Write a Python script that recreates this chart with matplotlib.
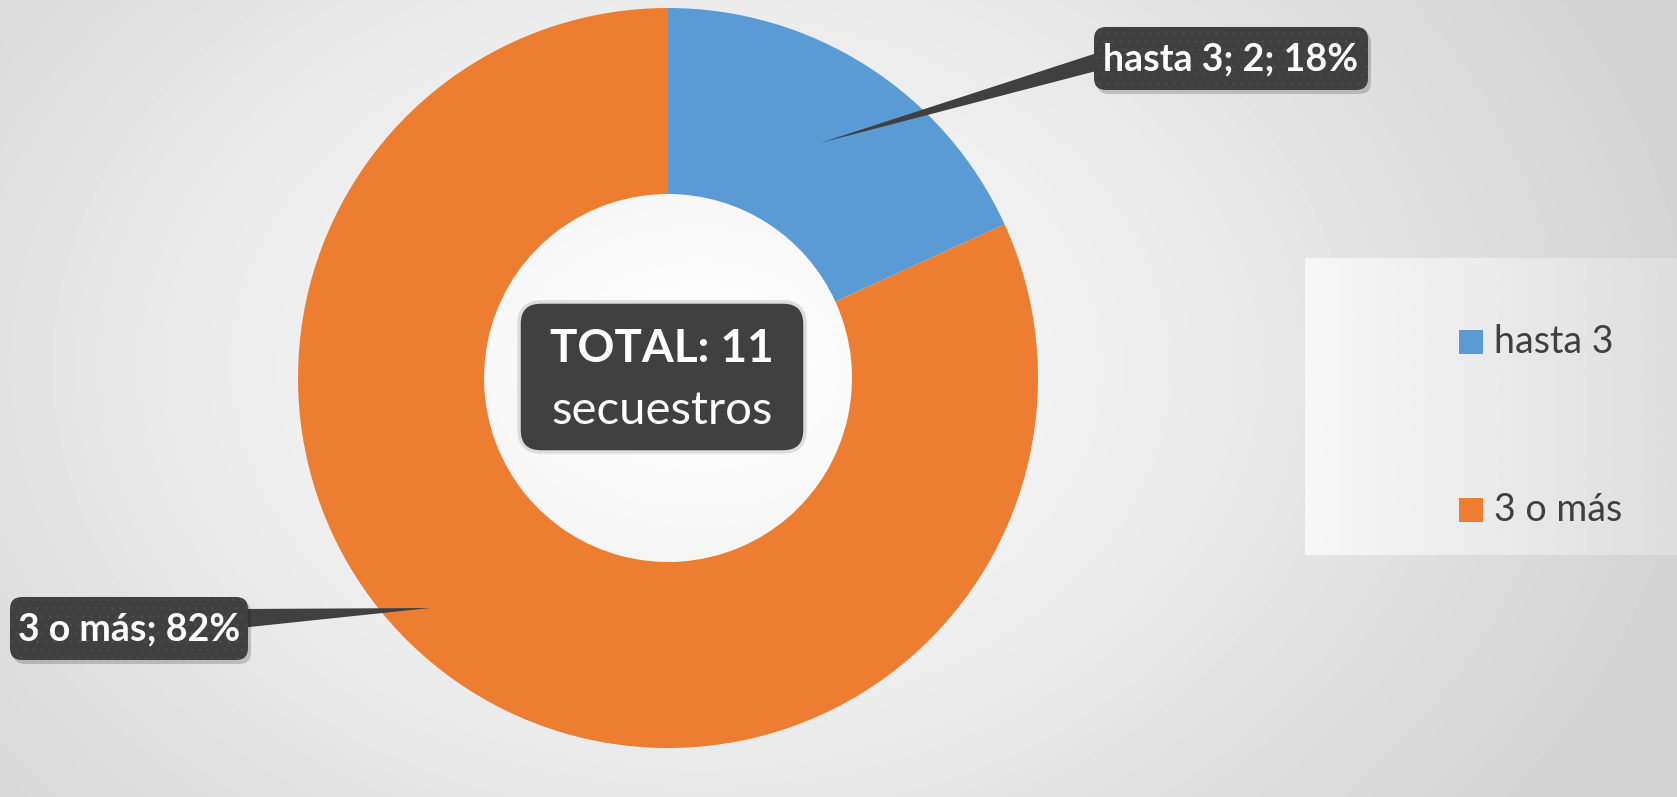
import numpy as np
import matplotlib
matplotlib.use("Agg")
import matplotlib.pyplot as plt
from matplotlib.patches import FancyBboxPatch, Polygon

plt.rcParams["font.family"] = ["Lato", "DejaVu Sans"]
plt.rcParams["hatch.linewidth"] = 0.8

# datos
categorias = ["hasta 3", "3 o más"]
valores = [2, 9]
colores = ["#5B9BD5", "#ED7D31"]
total = sum(valores)

W, H = 1677, 797
fig = plt.figure(figsize=(W / 100, H / 100), dpi=100)
ax = fig.add_axes([0, 0, 1, 1])
ax.set_xlim(0, W)
ax.set_ylim(0, H)
ax.set_aspect("equal")
ax.axis("off")

# fondo con degradado radial
yy, xx = np.mgrid[0:H, 0:W]
d = np.sqrt(((xx - 700) / 1000.0) ** 2 + ((yy - 430) / 750.0) ** 2)
bg = 1.0 - 0.17 * np.clip(d, 0, 1) ** 1.1
ax.imshow(bg, cmap="gray", vmin=0, vmax=1, extent=[0, W, 0, H], origin="lower", zorder=0)

# caja de la leyenda (degradado horizontal)
lx0, lx1, ly0, ly1 = 1305, W, H - 555, H - 258
gx = np.linspace(0, 1, 200)[None, :]
lg = 0.97 - 0.10 * gx
ax.imshow(np.repeat(lg, 10, axis=0), cmap="gray", vmin=0, vmax=1,
          extent=[lx0, lx1, ly0, ly1], zorder=0.5)

# anillo
cx, cy = 668, H - 378
wedges, _ = ax.pie(valores, colors=colores, startangle=90, counterclock=False,
                   radius=370, center=(cx, cy),
                   wedgeprops=dict(width=186, linewidth=0))
for w in wedges:
    w.set_zorder(2)
ax.set_xlim(0, W)
ax.set_ylim(0, H)


def caja(x0, y0, x1, y1, z=5):
    # sombra
    sh = FancyBboxPatch((x0 + 3, H - y1 - 4), x1 - x0, y1 - y0,
                        boxstyle="round,pad=0,rounding_size=12",
                        fc="#000000", ec="none", alpha=0.18, zorder=z - 0.2)
    ax.add_patch(sh)
    b = FancyBboxPatch((x0, H - y1), x1 - x0, y1 - y0,
                       boxstyle="round,pad=0,rounding_size=12",
                       fc="#404040", ec="#4b4b4b", lw=0.01, hatch="..", zorder=z)
    ax.add_patch(b)


# etiquetas con flecha
pct = [round(v / total * 100) for v in valores]
etiquetas = [f"{categorias[0]}; {valores[0]}; {pct[0]}%",
             f"{categorias[1]}; {pct[1]}%"]

poly1 = Polygon([(820, H - 143), (1100, H - 52), (1100, H - 70)], closed=True,
                fc="#404040", ec="none", zorder=4)
poly2 = Polygon([(430, H - 608), (240, H - 609), (240, H - 628)], closed=True,
                fc="#404040", ec="none", zorder=4)
ax.add_patch(poly1)
ax.add_patch(poly2)

caja(1094, 27, 1368, 90)
ax.text(1231, H - 59, etiquetas[0], color="white", fontsize=27, fontweight="bold",
        ha="center", va="center", zorder=6)
caja(10, 597, 248, 660)
ax.text(129, H - 629, etiquetas[1], color="white", fontsize=27, fontweight="bold",
        ha="center", va="center", zorder=6)

# caja central
b = FancyBboxPatch((519, H - 452), 286, 150, boxstyle="round,pad=0,rounding_size=22",
                   fc="#404040", ec="#dddddd", lw=2.5, zorder=5)
ax.add_patch(b)
ax.text(662, H - 349, f"TOTAL: {total}", color="white", fontsize=33, fontweight="bold",
        ha="center", va="center", zorder=6)
ax.text(662, H - 411, "secuestros", color="white", fontsize=34,
        ha="center", va="center", zorder=6)

# leyenda
ley_y = [342, 510]
for cat, col, y in zip(categorias, colores, ley_y):
    ax.add_patch(plt.Rectangle((1459, H - y - 12), 24, 24, fc=col, ec="none", zorder=6))
    ax.text(1494, H - y, cat, color="#404040", fontsize=27, ha="left", va="center", zorder=6)

fig.savefig("out.png", dpi=100)
